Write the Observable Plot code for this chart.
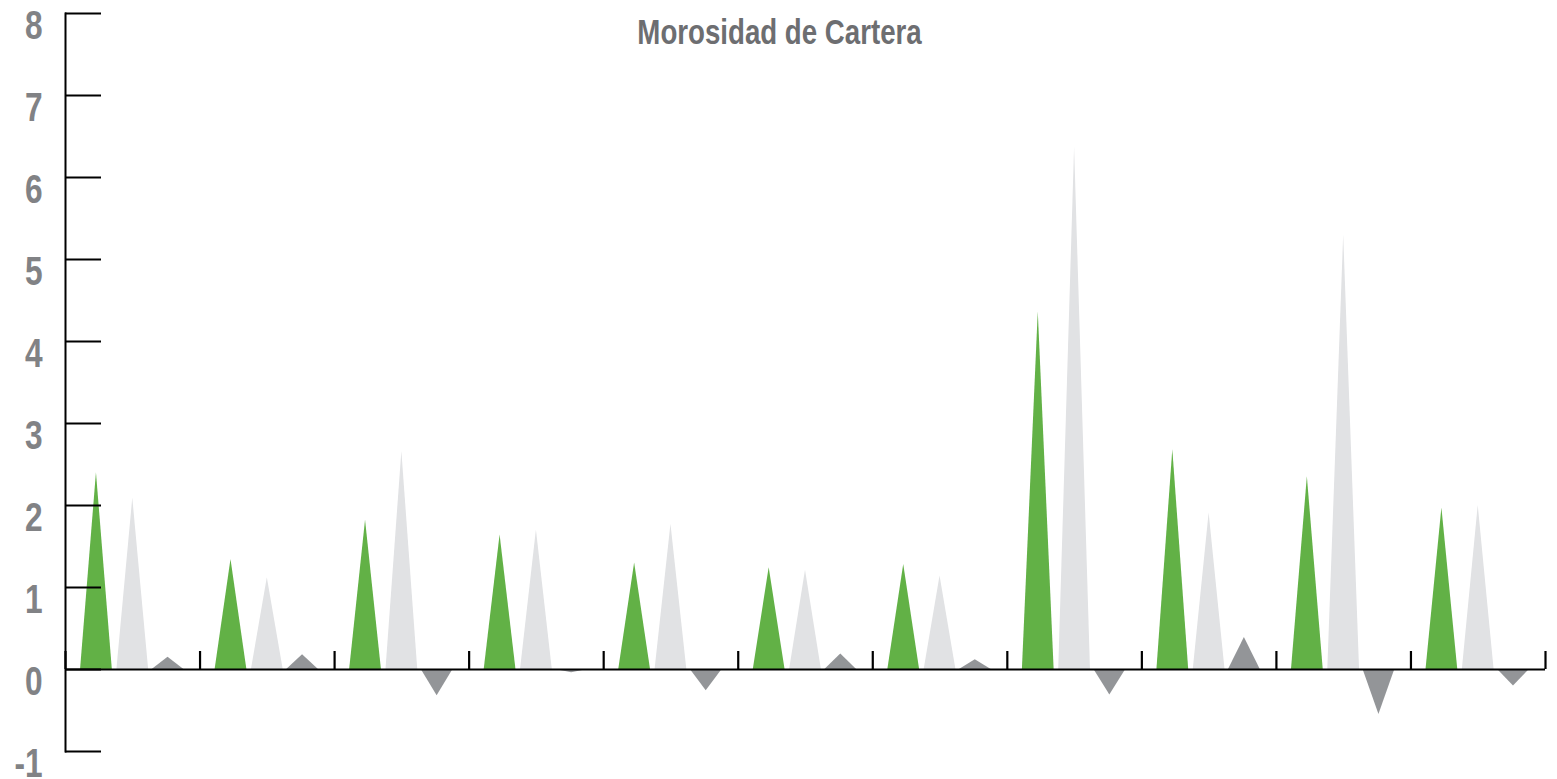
<!DOCTYPE html>
<html>
<head>
<meta charset="utf-8">
<script src="https://cdn.jsdelivr.net/npm/d3@7"></script>
<script src="https://cdn.jsdelivr.net/npm/@observablehq/plot@0.6"></script>
<style>
  html, body { margin: 0; padding: 0; background: #ffffff; }
  #chart svg { display: block; }
</style>
</head>
<body>
<div id="chart"></div>
<script>
// ---- Data ----
const title = "Morosidad de Cartera";
const groups = [1, 2, 3, 4, 5, 6, 7, 8, 9, 10, 11];
const seriesNames = ["Serie A", "Serie B", "Diferencia"];
const seriesA = [2.40, 1.34, 1.82, 1.64, 1.30, 1.24, 1.28, 4.36, 2.68, 2.35, 1.97];
const seriesB = [2.09, 1.12, 2.66, 1.70, 1.77, 1.21, 1.14, 6.37, 1.91, 5.30, 2.00];
const seriesDiff = [0.15, 0.18, -0.32, -0.04, -0.26, 0.19, 0.12, -0.31, 0.39, -0.55, -0.20];
const yTicks = [-1, 0, 1, 2, 3, 4, 5, 6, 7, 8];
const colors = ["#62b146", "#e1e2e4", "#939598"];

// ---- Build triangle vertices (position within each group band) ----
const centers = [0.23, 0.50, 0.762];
const halfW = 0.118;
const allSeries = [seriesA, seriesB, seriesDiff];
const verts = [];
groups.forEach((g, i) => {
  allSeries.forEach((vals, j) => {
    const cx = i + centers[j];
    const id = `${g}-${j}`;
    verts.push({id, s: seriesNames[j], x: cx - halfW, y: 0});
    verts.push({id, s: seriesNames[j], x: cx, y: vals[i]});
    verts.push({id, s: seriesNames[j], x: cx + halfW, y: 0});
  });
});

const font = "'Liberation Sans Narrow', 'Arial Narrow', 'Liberation Sans', Arial, sans-serif";

const chart = Plot.plot({
  width: 1557,
  height: 779,
  marginLeft: 65,
  marginRight: 12,
  marginTop: 13,
  marginBottom: 28,
  style: {fontFamily: font, background: "#ffffff"},
  x: {domain: [0, groups.length], axis: null},
  y: {domain: [-1, 8], axis: null},
  color: {domain: seriesNames, range: colors},
  marks: [
    Plot.areaY(verts, {x: "x", y: "y", z: "id", fill: "s", curve: "linear"}),
    // x zero line
    Plot.ruleY([0], {stroke: "#000", strokeWidth: 2}),
    // group separator ticks (pointing up from zero line)
    Plot.ruleX(d3.range(groups.length + 1), {y1: 0, y2: 0, insetTop: -18, stroke: "#000", strokeWidth: 2.2}),
    // y axis line
    Plot.frame({anchor: "left", stroke: "#000", strokeWidth: 2}),
    // y ticks pointing right
    Plot.ruleY(yTicks, {x1: 0, x2: 0, insetRight: -36, stroke: "#000", strokeWidth: 2}),
    // y labels
    Plot.text(yTicks, {
      x: 0, y: d => d, text: d => String(d),
      textAnchor: "end", dx: -23, dy: 13,
      fontSize: 40, fontWeight: "bold", fill: "#818285",
      className: "ylab"
    }),
    // title
    Plot.text([title], {
      frameAnchor: "top", dx: -26, dy: 6,
      fontSize: 35, fontWeight: "bold", fill: "#6d6e71",
      className: "ttl"
    })
  ]
});

document.getElementById("chart").appendChild(chart);

// Condense the bold text to mimic the narrow typeface of the reference
chart.querySelectorAll("text").forEach(t => {
  const len = t.getComputedTextLength();
  if (len > 0) {
    t.setAttribute("textLength", (len * 0.79).toFixed(1));
    t.setAttribute("lengthAdjust", "spacingAndGlyphs");
  }
});
</script>
</body>
</html>
